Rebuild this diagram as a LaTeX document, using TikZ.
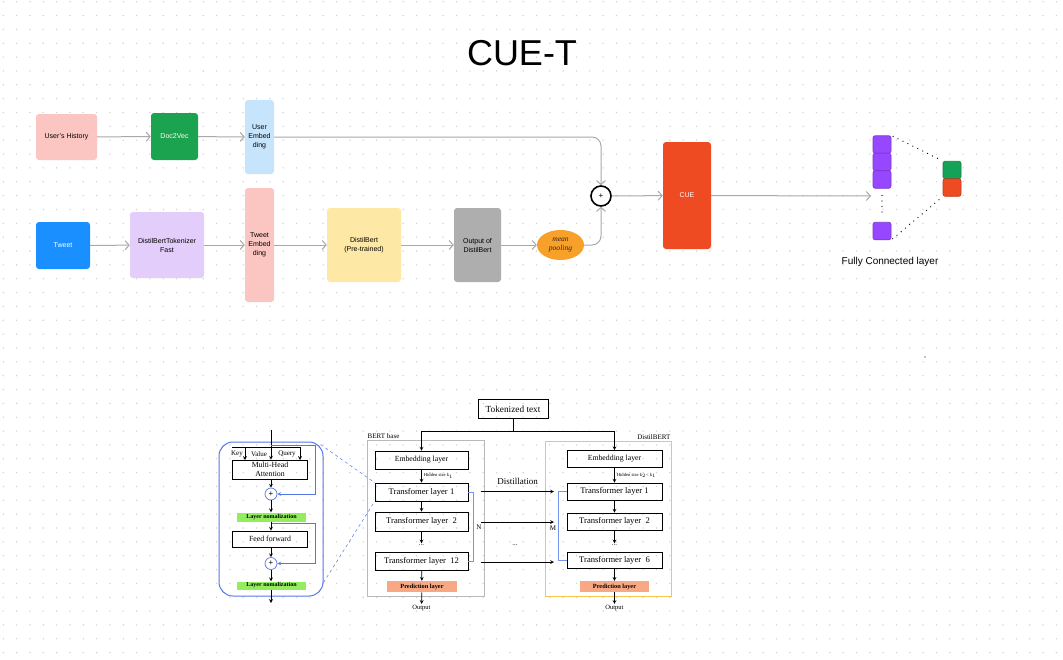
\documentclass[tikz,border=0pt]{standalone}
\usepackage{fontspec}
\setmainfont{Liberation Sans}
\newfontfamily\paperfont{Liberation Serif}
\usetikzlibrary{shapes.geometric, arrows, arrows.meta}
\definecolor{dotgray}{HTML}{D2D2D2}
\definecolor{flowgray}{HTML}{A9A9A9}
\definecolor{histpink}{HTML}{FBC5C1}
\definecolor{d2vgreen}{HTML}{1CA350}
\definecolor{embblue}{HTML}{C6E4FB}
\definecolor{tweetblue}{HTML}{1A8FFF}
\definecolor{toklilac}{HTML}{E3CDFB}
\definecolor{bertyellow}{HTML}{FEE8A5}
\definecolor{outgray}{HTML}{AEAEAE}
\definecolor{poolorange}{HTML}{F7A02A}
\definecolor{cuered}{HTML}{EF4B23}
\definecolor{fcpurple}{HTML}{9747FF}
\definecolor{fcgreen}{HTML}{14A356}
\definecolor{zoomblue}{HTML}{5577E6}
\definecolor{normgreen}{HTML}{92EE5C}
\definecolor{predorange}{HTML}{F8A882}
\definecolor{boxgray}{HTML}{B9B9B9}
\definecolor{boxgold}{HTML}{F6C550}
\tikzstyle{block} = [rectangle, rounded corners=3pt, text centered, align=center, inner sep=1pt, font=\fontsize{7}{9}\selectfont]
\tikzstyle{flow} = [draw=flowgray, line width=1pt, -{Straight Barb[length=4pt, width=9pt, line width=1pt]}]
\tikzstyle{fcunit} = [rectangle, rounded corners=2pt, draw=fcpurple!80!black, line width=0.6pt, fill=fcpurple, minimum width=18pt, minimum height=17.5pt]
\tikzstyle{fcdots} = [draw=black, line width=1.3pt, line cap=round, dash pattern=on 0pt off 5.5pt]
\tikzstyle{layer} = [rectangle, draw=black, line width=0.7pt, inner sep=0pt, font=\paperfont\fontsize{8.6}{9}\selectfont]
\tikzstyle{norm} = [rectangle, fill=normgreen, minimum width=69pt, minimum height=9pt, inner sep=0pt, font=\paperfont\bfseries\fontsize{6}{7}\selectfont]
\tikzstyle{pred} = [rectangle, fill=predorange, minimum width=70pt, minimum height=11pt, inner sep=0pt, font=\paperfont\bfseries\fontsize{6.3}{7}\selectfont]
\tikzstyle{plus} = [circle, draw=zoomblue, line width=0.7pt, minimum size=12pt, inner sep=0pt, font=\fontsize{8}{8}\selectfont]
\tikzstyle{small} = [inner sep=1pt, font=\paperfont\fontsize{7}{8}\selectfont]
\tikzstyle{arrow} = [line width=0.7pt, ->, >=stealth]
\tikzstyle{skip} = [draw=zoomblue, line width=0.7pt, ->, >=stealth]
\tikzstyle{bracket} = [draw=zoomblue!80, line width=0.6pt]

\begin{document}
\begin{tikzpicture}[x=1pt, y=-1pt]
\useasboundingbox (0,0) rectangle (1063,659);
\fill[white] (0,0) rectangle (1063,659);
% dotted canvas
\foreach \i in {0,...,79}
  \foreach \j in {0,...,47}
    \fill[dotgray] (3.3+13.33*\i, 1.7+13.85*\j) circle (0.8pt);

\node (title) at (522,53) {\fontsize{36}{40}\selectfont CUE-T};

% upper pipeline
\node (hist) [block, fill=histpink, minimum width=61pt, minimum height=46pt] at (66.5,137) {User's History};
\node (doc2vec) [block, fill=d2vgreen, text=white, minimum width=47pt, minimum height=47pt] at (174.5,136.5) {Doc2Vec};
\node (uemb) [block, fill=embblue, minimum width=29pt, minimum height=74pt] at (259.5,137) {User\\Embed\\ding};
\node (tweet) [block, fill=tweetblue, text=white, minimum width=54pt, minimum height=47pt] at (63,245.5) {Tweet};
\node (tok) [block, fill=toklilac, minimum width=74pt, minimum height=66pt] at (167,245) {DistilBertTokenizer\\Fast};
\node (temb) [block, fill=histpink, minimum width=29pt, minimum height=114pt] at (259.5,245) {Tweet\\Embed\\ding};
\node (dbert) [block, fill=bertyellow, minimum width=74pt, minimum height=74pt] at (364,245) {DistilBert\\(Pre-trained)};
\node (dout) [block, fill=outgray, minimum width=47pt, minimum height=74pt] at (477.5,245) {Output of\\DistilBert};
\node (pool) [ellipse, fill=poolorange, minimum width=47pt, minimum height=30pt, inner sep=0pt, align=center, text=black!70!brown, font=\paperfont\itshape\fontsize{7.6}{9}\selectfont] at (560.5,245) {mean\\pooling};
\node (add) [circle, draw=black, line width=1.6pt, fill=white, minimum size=20pt, inner sep=0pt, font=\fontsize{8}{8}\selectfont] at (601,196) {+};
\node (cue) [block, fill=cuered, text=white, minimum width=48pt, minimum height=107pt] at (687,195.5) {CUE};

% fully connected layer
\node (fc1) [fcunit] at (882,144.5) {};
\node (fc2) [fcunit] at (882,162) {};
\node (fc3) [fcunit] at (882,179.5) {};
\node (fc4) [fcunit] at (882,231) {};
\node (outg) [fcunit, fill=fcgreen, draw=fcgreen!80!black] at (952,170) {};
\node (outr) [fcunit, fill=cuered, draw=cuered!80!black] at (952,187.5) {};
\node (fclabel) at (890,262) {\fontsize{10}{12}\selectfont Fully Connected layer};
\coordinate (fcin) at (871,196);
\fill (925,357) circle (0.7pt);

\draw [flow] (hist) -- (doc2vec);
\draw [flow] (doc2vec) -- (uemb);
\draw [flow] (tweet) -- (tok);
\draw [flow] (tok) -- (temb);
\draw [flow] (temb) -- (dbert);
\draw [flow] (dbert) -- (dout);
\draw [flow] (dout) -- (pool);
\draw [flow, rounded corners=9pt] (uemb.east) -| (add.north);
\draw [flow, rounded corners=9pt] (pool.east) -| (add.south);
\draw [flow] (add) -- (cue);
\draw [flow] (cue) -- (fcin);
\draw [fcdots, shorten <=7pt, shorten >=6pt] (fc3.south) -- (fc4.north);
\draw [fcdots, shorten <=2pt, shorten >=2pt] (fc1.north east) -- (outg.north west);
\draw [fcdots, shorten <=2pt, shorten >=2pt] (fc4.south east) -- (outr.south west);

% transformer block
\node (lblock) [rectangle, rounded corners=14pt, draw=zoomblue, line width=1pt, minimum width=104pt, minimum height=154pt] at (271,519) {};
\coordinate (lin) at (271,430);
\coordinate (sk1) at (271,445);
\coordinate (lout) at (271,603);
\node (mha) [layer, minimum width=75pt, minimum height=19pt, align=center, font=\paperfont\fontsize{7.8}{8.5}\selectfont] at (270,469.5) {Multi-Head\\Attention};
\node (key) [small] at (237,454) {Key};
\node (val) [small] at (259,454) {Value};
\node (qry) [small] at (287,454) {Query};
\node (plus1) [plus] at (271,494) {+};
\node (ln1) [norm] at (271.5,517) {Layer nomalization};
\node (ff) [layer, minimum width=75pt, minimum height=16pt, font=\paperfont\fontsize{7.8}{8.5}\selectfont] at (270,539) {Feed forward};
\node (plus2) [plus] at (271,563.5) {+};
\node (ln2) [norm, minimum height=8pt] at (271.5,585.5) {Layer nomalization};

\draw [arrow] (lin) -- (mha.north -| lin);
\draw [line width=0.7pt] (232,447) -- (300,447);
\draw [arrow] (245,447) -- (245,460);
\draw [arrow] (300,447) -- (300,460);
\draw [skip] (sk1) -- ++(44,0) |- (plus1.east);
\draw [arrow] (mha.south -| plus1) -- (plus1);
\draw [arrow] (plus1) -- (ln1.north -| plus1);
\draw [skip] ([yshift=-2pt]ln1.south -| plus1) -- ++(44,0) |- (plus2.east);
\draw [arrow] (ln1.south -| plus1) -- (ff.north -| plus1);
\draw [arrow] (ff.south -| plus2) -- (plus2);
\draw [arrow] (plus2) -- (ln2.north -| plus2);
\draw [arrow] (ln2.south -| plus2) -- (lout);

% BERT base and DistilBERT
\node (tokt) [layer, minimum width=70pt, minimum height=19pt, font=\paperfont\fontsize{9.3}{10}\selectfont] at (513,409) {Tokenized text};
\coordinate (split) at (513,431);
\node (bertbox) [rectangle, draw=boxgray, line width=1pt, minimum width=117pt, minimum height=156pt] at (425.5,518) {};
\node [small, anchor=south west, font=\paperfont\fontsize{7}{8}\selectfont] at (bertbox.north west) {BERT base};
\node (distbox) [rectangle, draw=boxgold, line width=1pt, minimum width=126pt, minimum height=155pt] at (608,518.5) {};
\node [small, anchor=south east, font=\paperfont\fontsize{7}{8}\selectfont] at (distbox.north east) {DistilBERT};

\node (bemb) [layer, minimum width=93pt, minimum height=18pt, font=\paperfont\fontsize{7.8}{8.5}\selectfont] at (421.5,460) {Embedding layer};
\node (btl1) [layer, minimum width=93pt, minimum height=18pt] at (421.5,492) {Transfomer layer 1};
\node (btl2) [layer, minimum width=93pt, minimum height=19pt] at (421.5,521.5) {Transformer layer\ \ 2};
\node (bdots) [small] at (421.5,545) {...};
\node (btl12) [layer, minimum width=93pt, minimum height=18pt] at (421.5,561.5) {Transformer layer\ \ 12};
\node (bpred) [pred] at (422,586.5) {Prediction layer};
\node (bout) [small, font=\paperfont\fontsize{6.5}{7}\selectfont] at (421.5,608) {Output};

\node (demb) [layer, minimum width=95pt, minimum height=17pt, font=\paperfont\fontsize{7.8}{8.5}\selectfont] at (614.5,459) {Embedding layer};
\node (dtl1) [layer, minimum width=95pt, minimum height=17pt] at (614.5,491.5) {Transformer layer 1};
\node (dtl2) [layer, minimum width=95pt, minimum height=17pt] at (614.5,521.5) {Transformer layer\ \ 2};
\node (ddots) [small] at (614.5,545) {...};
\node (dtl6) [layer, minimum width=95pt, minimum height=16pt] at (614.5,560) {Transformer layer\ \ 6};
\node (dpred) [pred, minimum width=69pt] at (614.5,586.5) {Prediction layer};
\node (dout2) [small, font=\paperfont\fontsize{6.5}{7}\selectfont] at (614.5,608) {Output};

\draw [line width=0.7pt] (tokt.south) -- (split);
\draw [arrow] (split) -| (bemb.north);
\draw [arrow] (split) -| (demb.north);
\draw [arrow] (bemb) -- node[right, inner sep=2pt, font=\paperfont\fontsize{4.6}{5}\selectfont] {Hidden size k$_1$} (btl1);
\draw [arrow] (btl1) -- (btl2);
\draw [arrow] (btl2) -- (bdots.north);
\draw [arrow] (btl12) -- (bpred);
\draw [arrow] (bpred) -- (bout);
\draw [arrow] (demb) -- node[right, inner sep=2pt, font=\paperfont\fontsize{4.6}{5}\selectfont] {Hidden size k$_2$< k$_1$} (dtl1);
\draw [arrow] (dtl1) -- (dtl2);
\draw [arrow] (dtl2) -- (ddots.north);
\draw [arrow] (dtl6) -- (dpred);
\draw [arrow] (dpred) -- (dout2);

% brackets and distillation
\draw [bracket] (btl1.east) -- ++(5,0) |- (btl12.east);
\node (nlab) [small] at (479,527) {N};
\draw [bracket] (dtl1.west) -- ++(-8,0) |- (dtl6.west);
\node (mlab) [small] at (553,528) {M};
\coordinate (s1) at (481,491.5);
\coordinate (s2) at (481,522);
\coordinate (s3) at (481,562);
\coordinate (t1) at (554,491.5);
\coordinate (t2) at (554,522);
\coordinate (t3) at (554,562);
\draw [arrow] (s1) -- node[above=3pt, font=\paperfont\fontsize{9}{10}\selectfont] {Distillation} (t1);
\draw [arrow] (s2) -- (t2);
\draw [arrow] (s3) -- (t3);
\node (mdots) [small] at (515,545) {...};

% zoom lines
\draw [zoomblue, dashed, line width=0.5pt] ([xshift=-3pt, yshift=-3pt]lblock.north east) -- (btl1.north west);
\draw [zoomblue, dashed, line width=0.5pt] ([yshift=14pt]lblock.south east) -- (btl1.south west);
\end{tikzpicture}
\end{document}
